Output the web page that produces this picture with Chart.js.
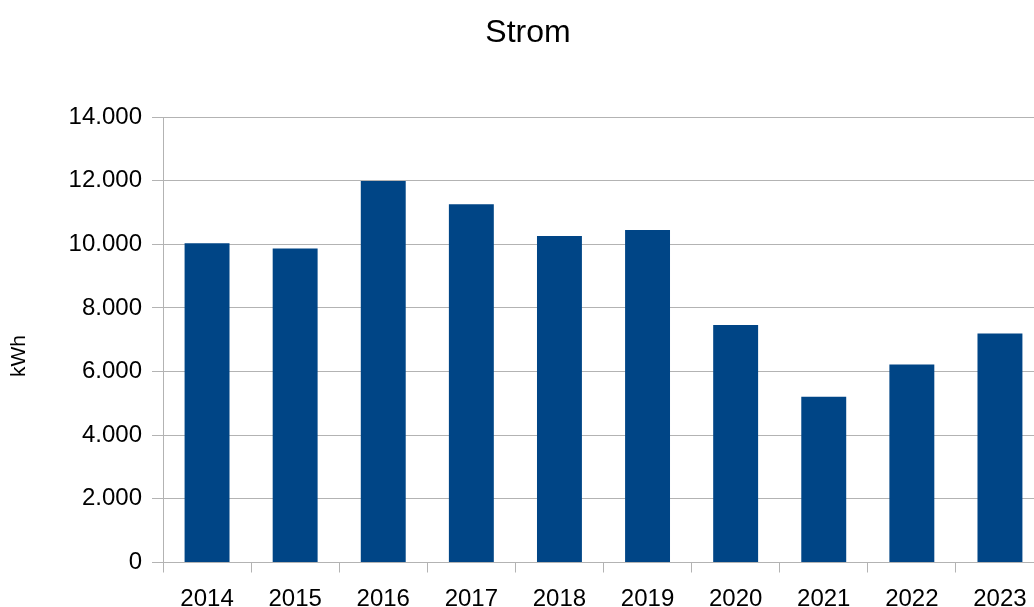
<!DOCTYPE html>
<html>
<head>
<meta charset="utf-8">
<title>Strom</title>
<script src="https://cdn.jsdelivr.net/npm/chart.js@4/dist/chart.umd.min.js"></script>
<style>
    html, body { margin: 0; padding: 0; background: #fff; overflow: hidden; }
    #wrap { width: 1056px; height: 607px; }
</style>
</head>
<body>
<div id="wrap"><canvas id="strom-chart"></canvas></div>
<script>
// Data
const years = ['2014', '2015', '2016', '2017', '2018', '2019', '2020', '2021', '2022', '2023'];
const kwh = [10030, 9870, 11990, 11260, 10260, 10450, 7460, 5210, 6220, 7200];

const fontFamily = '"Liberation Sans", Arial, sans-serif';

// German thousands separator
function formatNumber(v) {
    return String(v).replace(/\B(?=(\d{3})+(?!\d))/g, '.');
}

// Draw the y axis label where LibreOffice puts it
const axisLabelPlugin = {
    id: 'axisLabel',
    afterDraw(chart) {
        const ctx = chart.ctx;
        ctx.save();
        ctx.translate(19, 356);
        ctx.rotate(-Math.PI / 2);
        ctx.font = '21px ' + fontFamily;
        ctx.fillStyle = '#000';
        ctx.textAlign = 'center';
        ctx.textBaseline = 'middle';
        ctx.fillText('kWh', 0, 0);
        ctx.restore();
    }
};

const ctx = document.getElementById('strom-chart').getContext('2d');
new Chart(ctx, {
    type: 'bar',
    data: {
        labels: years,
        datasets: [{
            label: 'Strom',
            data: kwh,
            backgroundColor: '#004586',
            borderWidth: 0,
            categoryPercentage: 1,
            barPercentage: 0.51
        }]
    },
    options: {
        responsive: true,
        maintainAspectRatio: false,
        animation: false,
        layout: { padding: { left: 12, right: 12, top: 0, bottom: 0 } },
        plugins: {
            legend: { display: false },
            tooltip: { enabled: false },
            title: {
                display: true,
                text: 'Strom',
                color: '#000',
                font: { family: fontFamily, size: 32, weight: 'normal' },
                padding: { top: 14, bottom: 64.6 }
            }
        },
        scales: {
            x: {
                offset: true,
                grid: {
                    offset: true,
                    drawOnChartArea: false,
                    drawTicks: true,
                    tickLength: 10,
                    color: '#b3b3b3'
                },
                border: { display: false },
                ticks: {
                    color: '#000',
                    font: { family: fontFamily, size: 24 },
                    padding: 12,
                    maxRotation: 0,
                    autoSkip: false
                },
                afterFit(scale) { scale.height = 44.5; }
            },
            y: {
                min: 0,
                max: 14000,
                grid: {
                    color: '#b3b3b3',
                    tickLength: 11
                },
                border: { display: true, color: '#b3b3b3' },
                ticks: {
                    stepSize: 2000,
                    color: '#000',
                    font: { family: fontFamily, size: 24 },
                    padding: 10,
                    callback: value => formatNumber(value)
                },
                afterFit(scale) { scale.width = 151; }
            }
        }
    },
    plugins: [axisLabelPlugin]
});
</script>
</body>
</html>
